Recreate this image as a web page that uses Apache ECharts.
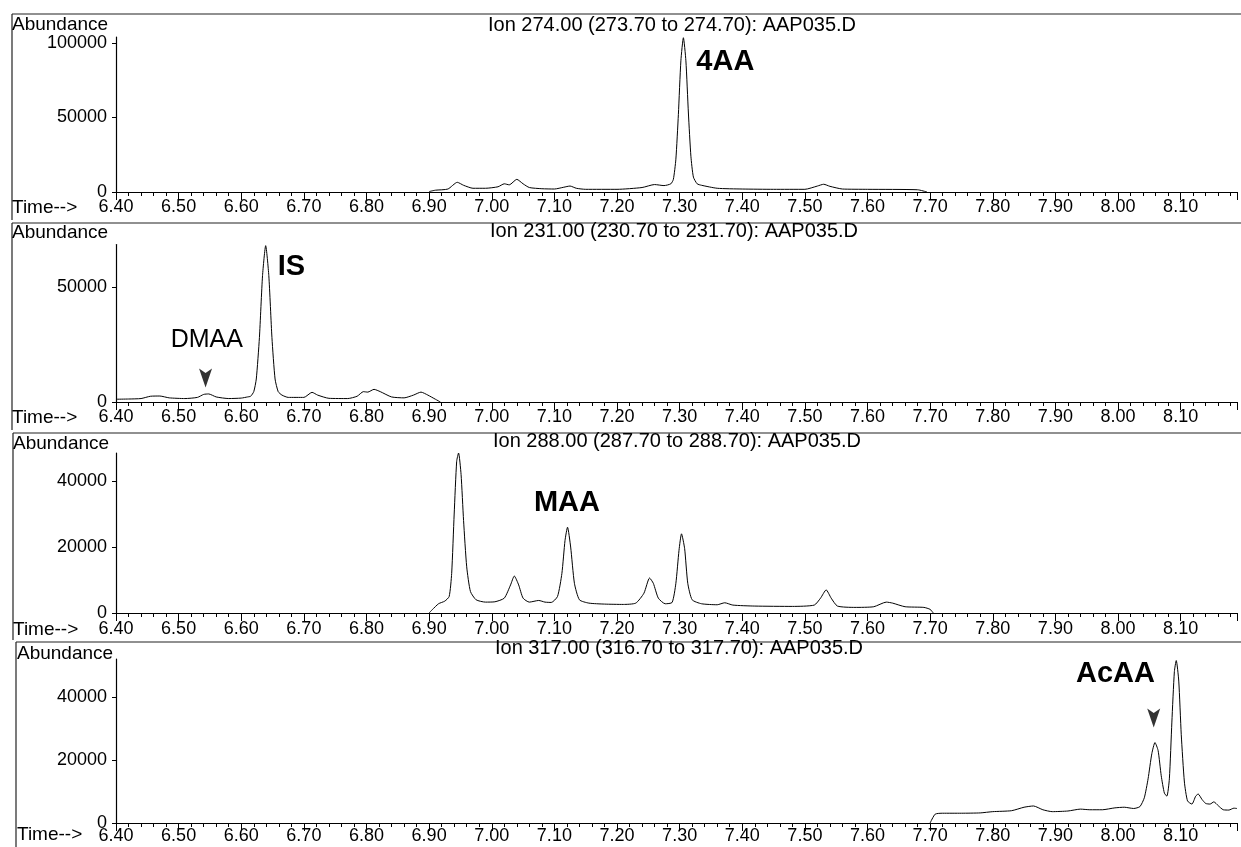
<!DOCTYPE html>
<html><head><meta charset="utf-8">
<script src="https://cdn.jsdelivr.net/npm/echarts@6/dist/echarts.min.js"></script>
<style>html,body{margin:0;padding:0;background:#fff}#c{width:1241px;height:847px}</style>
</head><body><div id="c"></div>
<script>
// ---------- DATA (time in min, abundance) ----------
const ion274 = [
 [6.900,300],[6.910,1200],[6.930,2000],[6.945,6500],[6.955,4500],[6.970,2500],[6.990,2500],
 [7.010,3500],[7.020,5500],[7.028,4800],[7.040,8500],[7.050,5500],[7.060,3000],[7.080,2200],
 [7.100,2000],[7.115,3200],[7.125,4000],[7.135,2500],[7.150,1800],[7.200,1800],[7.240,3000],
 [7.260,5000],[7.275,4300],[7.286,5500],[7.290,8500],[7.294,22000],[7.298,52000],[7.302,88000],
 [7.306,103500],[7.310,88000],[7.314,53000],[7.318,24000],[7.322,10000],[7.328,5500],[7.335,4500],
 [7.360,2500],[7.400,2000],[7.450,1800],[7.500,1800],[7.520,4000],[7.530,5200],[7.540,3800],
 [7.560,2000],[7.600,1800],[7.680,1500],[7.695,0]
];
const ion231 = [
 [6.400,1200],[6.420,1300],[6.440,1500],[6.455,2500],[6.470,2600],[6.485,1800],[6.510,1500],
 [6.530,2000],[6.540,3300],[6.548,3500],[6.560,2200],[6.580,1500],[6.600,1700],[6.610,2200],
 [6.615,2500],[6.620,4500],[6.624,10000],[6.629,28000],[6.634,55000],[6.639,68000],[6.644,55000],
 [6.649,28000],[6.654,10000],[6.659,4500],[6.665,3000],[6.675,2000],[6.700,2000],[6.713,4200],
 [6.722,3000],[6.740,1600],[6.770,1500],[6.785,2500],[6.795,4500],[6.802,4300],[6.812,5500],
 [6.822,4500],[6.840,2200],[6.860,1800],[6.875,3000],[6.887,4300],[6.898,3000],[6.910,1200],[6.918,0]
];
const ion288 = [
 [6.900,0],[6.905,1000],[6.915,2800],[6.925,3600],[6.932,5000],[6.936,12000],[6.940,30000],
 [6.944,46000],[6.947,48500],[6.951,42000],[6.955,28000],[6.960,14000],[6.966,6500],[6.975,4000],
 [6.990,3300],[7.005,3400],[7.020,4500],[7.030,8500],[7.036,11200],[7.043,8500],[7.050,4500],
 [7.060,3300],[7.075,3800],[7.085,3300],[7.095,3200],[7.105,5000],[7.112,12000],[7.117,22000],
 [7.121,26000],[7.126,20000],[7.132,9000],[7.140,4000],[7.155,3000],[7.180,2700],[7.210,2600],
 [7.230,3000],[7.243,6000],[7.252,10600],[7.258,9000],[7.266,4500],[7.277,2800],[7.288,3200],
 [7.294,9000],[7.299,19000],[7.303,24000],[7.308,19500],[7.313,9000],[7.320,4000],[7.335,2800],
 [7.360,2500],[7.372,3100],[7.385,2400],[7.420,2100],[7.480,2000],[7.515,2400],[7.525,4500],
 [7.534,7000],[7.542,4500],[7.552,2100],[7.580,1700],[7.610,1900],[7.630,3300],[7.640,3000],
 [7.660,1900],[7.690,1700],[7.700,1100],[7.705,0]
];
const ion317 = [
 [7.700,0],[7.708,2800],[7.720,3100],[7.750,3100],[7.780,3200],[7.800,3600],[7.830,3900],
 [7.850,5000],[7.865,5400],[7.880,4200],[7.895,3600],[7.920,3800],[7.940,4400],[7.955,4200],
 [7.975,4200],[7.995,4800],[8.010,5000],[8.025,4600],[8.035,5200],[8.042,8000],[8.048,14000],
 [8.054,22000],[8.059,25500],[8.064,23000],[8.069,15000],[8.074,9500],[8.078,8500],[8.082,14000],
 [8.086,32000],[8.090,48000],[8.093,51500],[8.097,45000],[8.101,28000],[8.106,13000],[8.111,7000],
 [8.118,6000],[8.124,8500],[8.128,9200],[8.134,7500],[8.140,6200],[8.147,6000],[8.153,6700],
 [8.160,5500],[8.168,4200],[8.177,4100],[8.185,4700],[8.190,4600]
];
const traces = [ion274, ion231, ion288, ion317];
const panelTitles = [
 'Ion 274.00 (273.70 to 274.70): AAP035.D',
 'Ion 231.00 (230.70 to 231.70): AAP035.D',
 'Ion 288.00 (287.70 to 288.70): AAP035.D',
 'Ion 317.00 (316.70 to 317.70): AAP035.D'
];
const yMax = [104000, 68500, 48500, 52000];
const yTickValues = [[0,50000,100000],[0,50000],[0,20000,40000],[0,20000,40000]];
const timeMin = 6.40, timeMax = 8.19, timeStep = 0.1;
// annotations: [panel, time, abundance, text]
const peakLabels = [
 [0, 7.373, 87200, '4AA'],
 [1, 6.680, 58700, 'IS'],
 [2, 7.120, 33300, 'MAA'],
 [3, 7.996, 47300, 'AcAA']
];
const plainLabels = [[1, 6.545, 27000, 'DMAA']];
const arrowMarks = [[1, 6.543, 10400], [3, 8.057, 33300]];

// ---------- LAYOUT ----------
const FONT = "'Liberation Sans', Arial, Helvetica, sans-serif";
const gridTop = [37, 244.5, 453, 659];
const gridBottomY = [192, 402, 613, 823];
const frameTop = [14, 223, 433, 642];
const frameLeft = [12, 12, 13, 16];
const frameEnd = [220, 430, 640, 847];
const textLeft = [12, 12, 13, 17];
const abundTop = [15, 223, 434, 644];
const titleLeft = [488, 490, 493, 495];
const titleTop = [15, 221, 431, 638];
const timeTop = [198, 408, 620, 825];
const labelMargin = [6, 6, 7, 4];

const grids = [], xAxes = [], yAxes = [], series = [], titles = [], graphics = [];
for (let i = 0; i < 4; i++) {
  grids.push({left: 116, width: 1121, top: gridTop[i], height: gridBottomY[i] - gridTop[i], outerBoundsMode: 'none', containLabel: false});
  xAxes.push({
    type: 'value', gridIndex: i, min: timeMin, max: timeMax, interval: timeStep,
    axisLine: {onZero: false, lineStyle: {color: '#000', width: 1.2}},
    axisTick: {show: true, length: 8, lineStyle: {color: '#000', width: 1}},
    minorTick: {show: true, splitNumber: 5, length: 4, lineStyle: {color: '#000', width: 1}},
    splitLine: {show: false}, minorSplitLine: {show: false},
    axisLabel: {
      color: '#000', fontSize: 18, fontFamily: FONT, margin: labelMargin[i],
      formatter: v => Math.abs(v / timeStep - Math.round(v / timeStep)) < 1e-6 ? v.toFixed(2) : ''
    }
  });
  yAxes.push({
    type: 'value', gridIndex: i, min: 0, max: yMax[i],
    axisLine: {show: true, lineStyle: {color: '#000', width: 1.2}},
    axisTick: {show: true, length: 4, customValues: yTickValues[i], lineStyle: {color: '#000'}},
    splitLine: {show: false},
    axisLabel: {color: '#000', fontSize: 18, fontFamily: FONT, margin: 9, customValues: yTickValues[i],
      formatter: v => String(Math.round(v))}
  });
  series.push({
    type: 'line', xAxisIndex: i, yAxisIndex: i, data: traces[i], showSymbol: false,
    smooth: 0.2, lineStyle: {color: '#000', width: 1}, animation: false, z: 3
  });
  titles.push({text: 'Abundance', left: textLeft[i], top: abundTop[i], padding: 0,
    textStyle: {fontSize: 19, fontWeight: 'normal', color: '#000', fontFamily: FONT}});
  titles.push({text: panelTitles[i], left: titleLeft[i], top: titleTop[i], padding: 0,
    textStyle: {fontSize: 20, fontWeight: 'normal', color: '#000', fontFamily: FONT}});
  titles.push({text: 'Time-->', left: textLeft[i], top: timeTop[i], padding: 0,
    textStyle: {fontSize: 19, fontWeight: 'normal', color: '#000', fontFamily: FONT}});
  graphics.push({type: 'line', shape: {x1: frameLeft[i], y1: frameTop[i], x2: 1241, y2: frameTop[i]}, style: {stroke: '#222', lineWidth: 1.2}});
  graphics.push({type: 'line', shape: {x1: frameLeft[i], y1: frameTop[i], x2: frameLeft[i], y2: frameEnd[i]}, style: {stroke: '#222', lineWidth: 1.2}});
}
for (let i = 0; i < 4; i++) {
  const bold = peakLabels.filter(a => a[0] === i).map(a => [a[1], a[2], a[3]]);
  const plain = plainLabels.filter(a => a[0] === i).map(a => [a[1], a[2], a[3]]);
  const arr = arrowMarks.filter(a => a[0] === i).map(a => [a[1], a[2]]);
  if (bold.length) series.push({type: 'scatter', xAxisIndex: i, yAxisIndex: i, data: bold, symbolSize: 1,
    itemStyle: {color: 'rgba(255,255,255,0)'}, animation: false, silent: true,
    label: {show: true, position: 'inside', formatter: p => p.value[2], color: '#000', opacity: 1,
      textBorderWidth: 0, fontSize: 29, fontWeight: 'bold', fontFamily: FONT}});
  if (plain.length) series.push({type: 'scatter', xAxisIndex: i, yAxisIndex: i, data: plain, symbolSize: 1,
    itemStyle: {color: 'rgba(255,255,255,0)'}, animation: false, silent: true,
    label: {show: true, position: 'inside', formatter: p => p.value[2], color: '#000', opacity: 1,
      textBorderWidth: 0, fontSize: 25, fontWeight: 'normal', fontFamily: FONT}});
  if (arr.length) series.push({type: 'scatter', xAxisIndex: i, yAxisIndex: i, data: arr,
    symbol: 'path://M0 0 L6 4 L12 0 L6 17 Z', symbolSize: [13, 19], symbolKeepAspect: false,
    itemStyle: {color: '#000'}, animation: false, silent: true});
}

const chart = echarts.init(document.getElementById('c'), null, {renderer: 'canvas'});
chart.setOption({
  backgroundColor: '#fff', animation: false,
  title: titles, grid: grids, xAxis: xAxes, yAxis: yAxes, series: series, graphic: graphics
});
</script></body></html>
